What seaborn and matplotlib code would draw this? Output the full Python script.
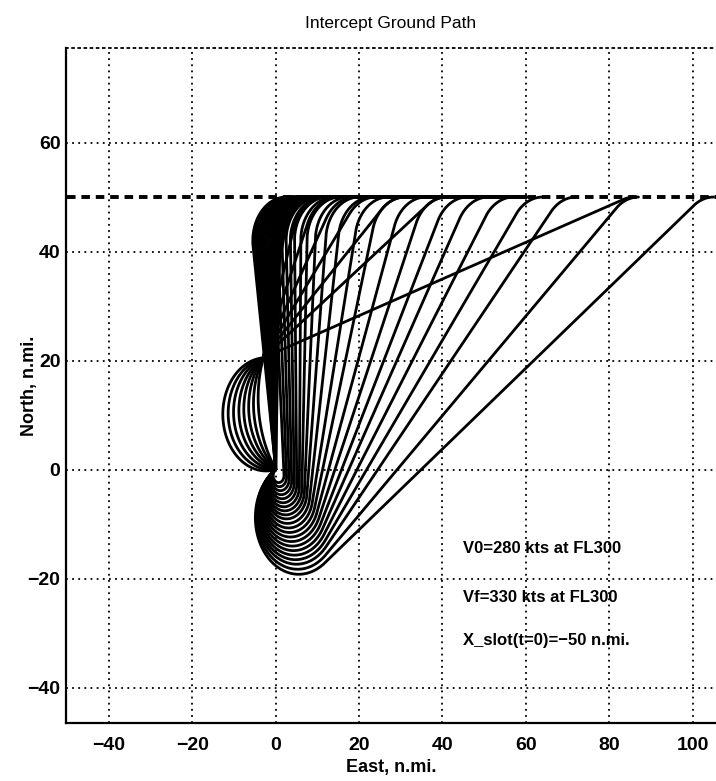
import numpy as np
import pandas as pd
import seaborn as sns
import matplotlib
matplotlib.use("Agg")
import matplotlib.pyplot as plt

# Stile: bianco con griglia puntinata stile MATLAB
sns.set_theme(style="white")
plt.rcParams["font.family"] = ["Liberation Sans", "DejaVu Sans"]
plt.rcParams["font.weight"] = "bold"
plt.rcParams["text.color"] = "black"
plt.rcParams["axes.labelcolor"] = "black"
plt.rcParams["xtick.color"] = "black"
plt.rcParams["ytick.color"] = "black"

# Linea dello slot (nord = 50 n.mi.)
slot_east = [-50, 106]
slot_north = [50, 50]
FINAL_TURN_RADIUS = 8.0
MERGED_TAIL_END = 60.0

# Percorsi diretti (prua iniziale ~nord): x di aggancio alla linea dello slot
direct_merge_x = [2.5, 3.0, 3.5, 4.0, 4.5, 5.0, 5.5, 6.0, 6.5, 7.0, 7.5, 8.0, 8.5, 9.0]

# Anello sinistro: gli archi si chiudono nel punto in alto, rigonfiamento e x di aggancio
left_loop_top = (-3.0, 20.5)
left_loop_bulge = [2.5, 3.7, 4.9, 6.1, 7.3, 8.6, 9.9, 11.2]
left_loop_merge_x = [10, 12, 15, 19, 24, 31, 41, 86]

# Anello inferiore: prua iniziale (gradi), raggio di virata e x di aggancio
lower_loop_heading = 212.0
lower_loop_radius = [10.4, 9.9, 9.4, 8.95, 8.5, 8.05, 7.6, 7.15, 6.7, 6.25, 5.8,
                     5.35, 4.9, 4.5, 4.1, 3.7, 3.3, 2.9, 2.5, 2.1, 1.7, 1.3]
lower_loop_merge_x = [105, 87, 72, 64, 57, 51, 46, 41, 36, 31, 27, 23, 20, 17.5, 15.5,
                      14, 12.5, 11.5, 10.5, 9.5, 8.5, 7.5]

# Testi
notes = ["V0=280 kts at FL300", "Vf=330 kts at FL300", "X_slot(t=0)=\u221250 n.mi."]
notes_east = 45
notes_north = [-14.4, -23.4, -31.3]


def unit(deg):
    a = np.radians(deg)
    return np.array([np.cos(a), np.sin(a)])


def arc(center, radius, a_start, a_end, n=60):
    a = np.radians(np.linspace(a_start, a_end, n))
    return np.column_stack([center[0] + radius * np.cos(a), center[1] + radius * np.sin(a)])


def lens_arc(p0, p1, bulge, n=80):
    """Arco di cerchio da p0 a p1, rigonfio a sinistra (virata a destra)."""
    p0 = np.asarray(p0, float)
    p1 = np.asarray(p1, float)
    chord = p1 - p0
    c = np.hypot(*chord)
    u = chord / c
    nrm = np.array([-u[1], u[0]])
    R = (c ** 2 / 4 + bulge ** 2) / (2 * bulge)
    center = (p0 + p1) / 2 + nrm * (bulge - R)
    a0 = np.degrees(np.arctan2(*(p0 - center)[::-1]))
    a1 = np.degrees(np.arctan2(*(p1 - center)[::-1]))
    sweep = (a0 - a1) % 360
    return arc(center, R, a0, a0 - sweep, n)


def final_leg(c1, r1, merge_x):
    """Tangente da virata sinistra (c1, r1) a virata destra sulla linea dello slot."""
    c2 = np.array([merge_x, slot_north[0] - FINAL_TURN_RADIUS])
    d = c2 - np.asarray(c1, float)
    L = np.hypot(*d)
    theta = np.degrees(np.arctan2(d[1], d[0]) + np.arcsin((r1 + FINAL_TURN_RADIUS) / L))
    x2 = c2 + FINAL_TURN_RADIUS * unit(theta + 90)
    turn = arc(c2, FINAL_TURN_RADIUS, theta + 90, 90, 40)
    tail_end = max(merge_x, MERGED_TAIL_END)
    tail = np.array([[merge_x, slot_north[0]], [tail_end, slot_north[0]]])
    return theta, np.vstack([x2, turn, tail])


pieces = []

for m in direct_merge_x:
    _, leg = final_leg((0, 0), 0.0, m)
    pieces.append(np.vstack([[0, 0], leg]))

for s, m in zip(left_loop_bulge, left_loop_merge_x):
    loop = lens_arc((0, 0), left_loop_top, s)
    _, leg = final_leg(left_loop_top, 0.0, m)
    pieces.append(np.vstack([loop, leg]))

for r, m in zip(lower_loop_radius, lower_loop_merge_x):
    c1 = r * unit(lower_loop_heading + 90)
    theta, leg = final_leg(c1, r, m)
    a0 = lower_loop_heading - 90
    sweep = (theta - lower_loop_heading) % 360
    loop = arc(c1, r, a0, a0 + sweep, 90)
    pieces.append(np.vstack([loop, leg]))

paths = pd.concat(
    [pd.DataFrame({"east": p[:, 0], "north": p[:, 1], "path": i}) for i, p in enumerate(pieces)],
    ignore_index=True,
)

fig = plt.figure(figsize=(7.16, 7.81), dpi=100)
ax = fig.add_axes([0.0922, 0.0743, 0.9078, 0.8639])

sns.lineplot(data=paths, x="east", y="north", units="path", estimator=None, sort=False,
             color="black", linewidth=2.0, ax=ax, legend=False)
sns.lineplot(x=slot_east, y=slot_north, color="black", linewidth=2.8, ax=ax, legend=False)
ax.lines[-1].set_dashes((2.2, 1.5))

ax.set_xlim(-50.3, 105.6)
ax.set_ylim(-46.5, 77.3)
ax.set_xticks(range(-40, 101, 20))
ax.set_yticks(range(-40, 61, 20))

ax.grid(True, color="black", linewidth=1.3, linestyle=(0, (1, 2.4)))
ax.set_axisbelow(True)

for side in ["left", "bottom"]:
    ax.spines[side].set_color("black")
    ax.spines[side].set_linewidth(1.6)
ax.spines["right"].set_visible(False)
ax.spines["top"].set_color("black")
ax.spines["top"].set_linewidth(1.3)
ax.spines["top"].set_linestyle((0, (1, 2.4)))

ax.tick_params(axis="both", direction="in", length=6, width=1.5, labelsize=14,
               colors="black")
ax.tick_params(axis="x", pad=10)
ax.tick_params(axis="y", pad=4)

ax.set_title("Intercept Ground Path", fontsize=12.5, fontweight="normal", y=1.018)
ax.set_xlabel("East, n.mi.", fontsize=13, fontweight="bold")
ax.set_ylabel("North, n.mi.", fontsize=13, fontweight="bold")
ax.xaxis.set_label_coords(0.5, -0.054)
ax.yaxis.set_label_coords(-0.043, 0.5)

for text, y in zip(notes, notes_north):
    ax.text(notes_east, y, text, fontsize=12, fontweight="bold", va="center", ha="left")

fig.savefig("out.png", dpi=100)
plt.close(fig)
